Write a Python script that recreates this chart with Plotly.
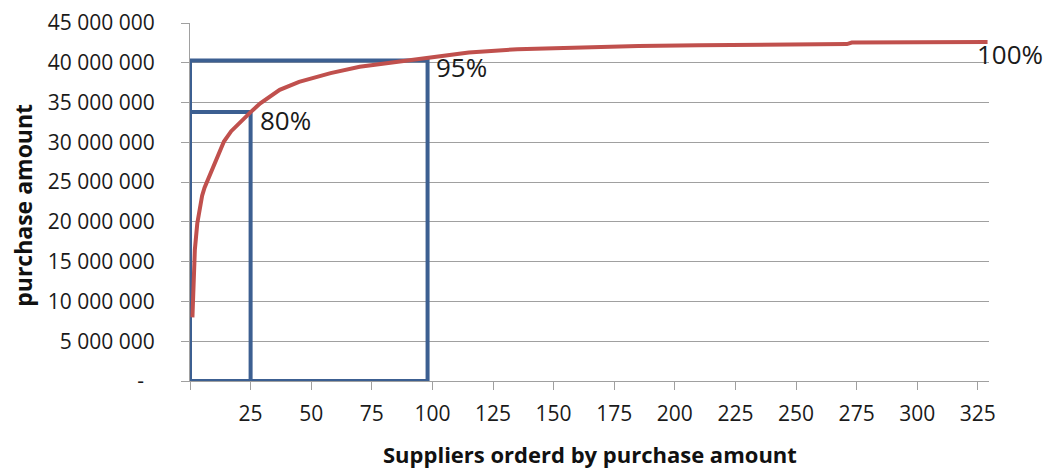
import plotly.graph_objects as go

# Cumulative purchase amount by supplier rank
supplier_rank = [1, 2, 3, 4, 5, 6, 8, 10, 12, 14, 17, 20, 23, 25, 29, 37, 45, 58, 70, 82,
                 95, 103, 115, 135, 160, 185, 210, 240, 271, 273, 300, 329]
cumulative_amount = [8.0e6, 16.5e6, 19.8e6, 21.9e6, 23.3e6, 24.3e6, 25.7e6, 27.2e6, 28.8e6, 30.1e6,
                     31.4e6, 32.3e6, 33.3e6, 33.8e6, 34.9e6, 36.6e6, 37.6e6, 38.7e6, 39.5e6, 40.0e6,
                     40.45e6, 40.75e6, 41.3e6, 41.7e6, 41.95e6, 42.1e6, 42.2e6, 42.3e6, 42.35e6, 42.55e6,
                     42.6e6, 42.6e6]

# Pareto boxes
box95_x = [0, 98, 98, 0, 0]
box95_y = [0, 0, 40.3e6, 40.3e6, 0]
box80_x = [0, 25, 25]
box80_y = [33.8e6, 33.8e6, 0]

# Labels
label_text = ["80%", "95%", "100%"]
label_x = [25, 98, 329]
label_y = [33.8e6, 40.3e6, 42.6e6]

x_tickvals = list(range(0, 326, 25))
x_ticktext = [""] + [str(v) for v in x_tickvals[1:]]
y_tickvals = [i * 5e6 for i in range(10)]
y_ticktext = ["-\u00a0\u00a0"] + ["{:,}".format(int(v)).replace(",", " ") for v in y_tickvals[1:]]

BLUE = "#3C5F91"
RED = "#C0504D"
GRID = "#A0A0A0"
TEXT = "#1A1A1A"
FONT = "Open Sans"

fig = go.Figure()
fig.add_trace(go.Scatter(x=box95_x, y=box95_y, mode="lines",
                         line=dict(color=BLUE, width=4), cliponaxis=False,
                         showlegend=False, hoverinfo="skip"))
fig.add_trace(go.Scatter(x=box80_x, y=box80_y, mode="lines",
                         line=dict(color=BLUE, width=4), cliponaxis=False,
                         showlegend=False, hoverinfo="skip"))
fig.add_trace(go.Scatter(x=supplier_rank, y=cumulative_amount, mode="lines",
                         line=dict(color=RED, width=4),
                         cliponaxis=False, showlegend=False))

shifts = [(7, -8), (6, -7), (-13, -12)]
for t, x, y, (dx, dy) in zip(label_text, label_x, label_y, shifts):
    fig.add_annotation(x=x, y=y, text=t, showarrow=False, xanchor="left", yanchor="middle",
                       xshift=dx, yshift=dy, font=dict(family=FONT, size=26, color=TEXT))

# Axis titles as paper annotations (fixed positions)
fig.add_annotation(x=0.5, xref="paper", y=-0.203, yref="paper", yanchor="middle",
                   text="<b>Suppliers orderd by purchase amount</b>", showarrow=False,
                   borderpad=0,
                   font=dict(family=FONT, size=22, color="#111111"))
fig.add_annotation(x=-0.210, xref="paper", y=0.49, yref="paper", xanchor="center", yanchor="middle",
                   text="<b>purchase amount</b>", showarrow=False, textangle=-90,
                   font=dict(family=FONT, size=23, color="#111111"))

fig.update_layout(
    width=1044, height=470,
    margin=dict(l=190, r=55, t=23, b=89, autoexpand=False),
    paper_bgcolor="white", plot_bgcolor="white",
    font=dict(family=FONT, size=21, color=TEXT),
)
fig.update_xaxes(range=[0, 329.6], tickvals=x_tickvals, ticktext=x_ticktext, automargin=False,
                 showgrid=False, zeroline=False, showline=True, linecolor=GRID, linewidth=1,
                 ticks="outside", ticklen=8, tickcolor=GRID, ticklabelstandoff=6,
                 tickfont=dict(family=FONT, size=21, color=TEXT))
fig.update_yaxes(range=[0, 45e6], tickvals=y_tickvals, ticktext=y_ticktext, automargin=False,
                 showgrid=True, gridcolor=GRID, gridwidth=1, zeroline=False,
                 showline=True, linecolor=GRID, linewidth=1,
                 ticks="outside", ticklen=8, tickcolor=GRID, ticklabelstandoff=22,
                 tickfont=dict(family=FONT, size=21, color=TEXT))

fig.write_html("out.html")
